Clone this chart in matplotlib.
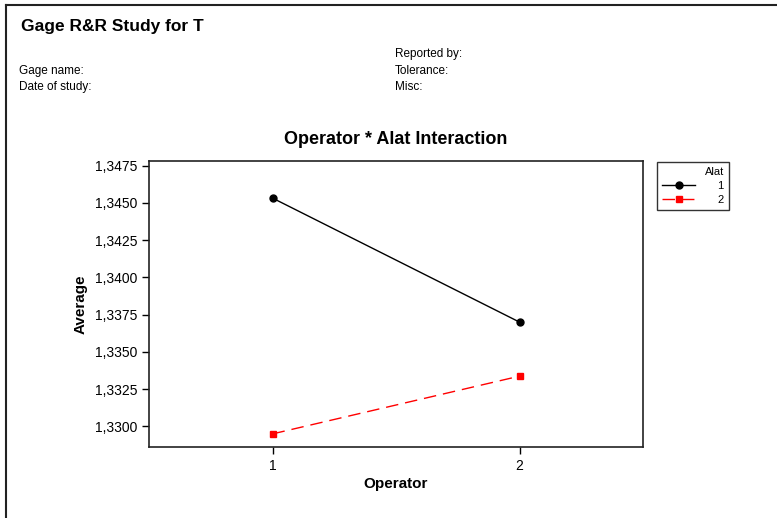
import matplotlib
matplotlib.use("Agg")
import matplotlib.pyplot as plt
from matplotlib.lines import Line2D
from matplotlib.ticker import FuncFormatter

plt.rcParams['font.family'] = ['Liberation Sans', 'DejaVu Sans']

operators = [1, 2]
alat_labels = ['1', '2']
alat1_avg = [1.34533, 1.33700]
alat2_avg = [1.32949, 1.33337]
yticks = [1.3300, 1.3325, 1.3350, 1.3375, 1.3400, 1.3425, 1.3450, 1.3475]

fig = plt.figure(figsize=(7.77, 5.18), dpi=100)
W, H = 777, 518

# outer frame (top and left edges visible)
fig.add_artist(Line2D([6 / W, 1.0], [1 - 5 / H, 1 - 5 / H], color='#222222', lw=1.5, transform=fig.transFigure))
fig.add_artist(Line2D([6 / W, 6 / W], [0, 1 - 5 / H], color='#222222', lw=1.5, transform=fig.transFigure))

fig.text(21 / W, 1 - 27 / H, 'Gage R&R Study for T', fontsize=12.5, fontweight='bold', va='center', ha='left')
fig.text(19 / W, 1 - 71 / H, 'Gage name:', fontsize=8.5, va='center', ha='left')
fig.text(19 / W, 1 - 87 / H, 'Date of study:', fontsize=8.5, va='center', ha='left')
fig.text(395 / W, 1 - 54 / H, 'Reported by:', fontsize=8.5, va='center', ha='left')
fig.text(395 / W, 1 - 71 / H, 'Tolerance:', fontsize=8.5, va='center', ha='left')
fig.text(395 / W, 1 - 87 / H, 'Misc:', fontsize=8.5, va='center', ha='left')

ax = fig.add_axes([149 / W, 1 - 447 / H, (643 - 149) / W, (447 - 161) / H])
ax.plot(operators, alat1_avg, color='black', lw=1, marker='o', markersize=5, label=alat_labels[0])
ax.plot(operators, alat2_avg, color='red', lw=1, marker='s', markersize=5,
        linestyle=(0, (9, 5)), label=alat_labels[1])

ax.set_xlim(0.5, 2.5)
ax.set_ylim(1.32861, 1.34782)
ax.set_xticks(operators)
ax.set_xticklabels([str(o) for o in operators])
ax.set_yticks(yticks)
ax.yaxis.set_major_formatter(FuncFormatter(lambda v, p: f'{v:.4f}'.replace('.', ',')))
ax.tick_params(direction='out', length=5, width=1, labelsize=10, colors='black')
for s in ax.spines.values():
    s.set_linewidth(1.2)
    s.set_color('#222222')

ax.set_title('Operator * Alat Interaction', fontsize=13, fontweight='bold', pad=12)
ax.set_xlabel('Operator', fontsize=11, fontweight='bold', labelpad=3)
ax.set_ylabel('Average', fontsize=11, fontweight='bold', labelpad=5)

leg = fig.legend(handles=ax.get_lines(), title='Alat', loc='upper left',
                 bbox_to_anchor=(657 / W, 1 - 162 / H), borderaxespad=0,
                 fontsize=8, title_fontsize=8,
                 frameon=True, fancybox=False, edgecolor='black', handlelength=3.0,
                 markerfirst=True, alignment='right', borderpad=0.45, labelspacing=0.35,
                 handletextpad=2.0)
leg.get_frame().set_linewidth(1)

fig.savefig('out.png', dpi=100)
